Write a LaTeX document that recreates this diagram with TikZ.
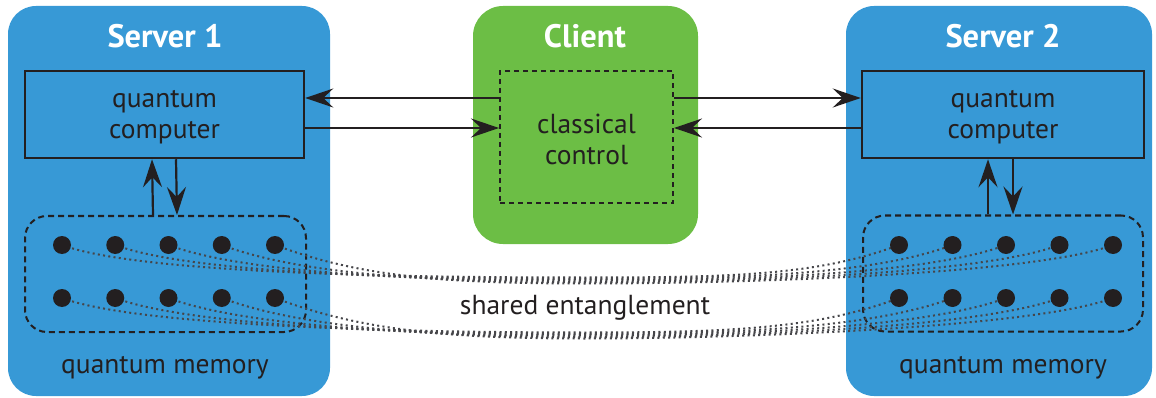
\documentclass[tikz,border=0pt]{standalone}
\usepackage{fontspec}
\setmainfont{PT Sans}
\usetikzlibrary{arrows.meta, positioning, calc}

\definecolor{serverblue}{RGB}{55,153,214}
\definecolor{clientgreen}{RGB}{108,190,69}
\definecolor{ink}{RGB}{35,31,32}
\definecolor{linkgray}{RGB}{70,70,74}

\tikzset{
	panel/.style={rounded corners=28pt, inner sep=0pt, minimum height=#1},
	title/.style={text=white, font=\bfseries\fontsize{32.5}{36}\selectfont},
	label/.style={text=ink, align=center, font=\fontsize{27.5}{31}\selectfont},
	qcbox/.style={draw=ink, line width=2.5pt, minimum height=87pt, inner sep=0pt},
	membox/.style={draw=ink, line width=2pt, dash pattern=on 6pt off 4pt, rounded corners=22pt, minimum height=116pt, inner sep=0pt},
	qubit/.style={circle, fill=ink, minimum size=18pt, inner sep=0pt},
	conn/.style={draw=ink, line width=2.2pt, -{Stealth[length=28pt, width=19pt, inset=10pt]}},
	entangle/.style={draw=linkgray, line width=2pt, dash pattern=on 2pt off 3.3pt},
}

\begin{document}
\begin{tikzpicture}[x=1pt, y=-1pt]
		\useasboundingbox (0,0) rectangle (1156,398);
		
		% panels
		\node [panel=390pt, fill=serverblue, minimum width=322pt] (server1) at (169,201) {};
		\node [panel=390pt, fill=serverblue, minimum width=306pt] (server2) at (999,201) {};
		\node [panel=238pt, fill=clientgreen, minimum width=225pt, rounded corners=30pt] (client) at (585.5,125) {};
		
		\node [title] at (165,36) {Server 1};
		\node [title] at (585,36) {Client};
		\node [title] at (1003,36) {Server 2};
		
		% boxes
		\node [qcbox, minimum width=279pt] (qc1) at (164.5,114.5) {};
		\node [qcbox, minimum width=282pt] (qc2) at (1003,114.5) {};
		\node [draw=ink, line width=2pt, dash pattern=on 5pt off 4pt, minimum width=173pt, minimum height=132pt, inner sep=0pt] (ctrl) at (586.5,137) {};
		\node [membox, minimum width=281pt] (mem1) at (165.5,274) {};
		\node [membox, minimum width=280pt] (mem2) at (1003,273.5) {};
		
		\node [label] at ($(qc1)+(0,3)$) {quantum\\computer};
		\node [label] at ($(qc2)+(0,3)$) {quantum\\computer};
		\node [label] at ($(ctrl)+(0,2)$) {classical\\control};
		\node [label] at (165,368) {quantum memory};
		\node [label] at (1003,368) {quantum memory};
		\node [label] at (585,308) {shared entanglement};
		
		% qubits
		\foreach \i in {1,...,5} {
			\coordinate (a\i) at ({62+53.25*(\i-1)},245);
			\coordinate (c\i) at ({62+53.25*(\i-1)},298);
			\coordinate (b\i) at ({899+53.5*(\i-1)},245);
			\coordinate (d\i) at ({899+53.5*(\i-1)},298);
			\coordinate (m\i) at (585,{276+1.5*\i});
			\coordinate (n\i) at (585,{331+1.5*\i});
		}
		
		% entanglement links
		\foreach \i in {1,...,5} {
			\draw [entangle] (a\i) .. controls +(80,30) and +(-150,0) .. (m\i) .. controls +(150,0) and +(-80,30) .. (b\i);
			\draw [entangle] (c\i) .. controls +(80,30) and +(-150,0) .. (n\i) .. controls +(150,0) and +(-80,30) .. (d\i);
		}
		
		\foreach \i in {1,...,5} {
			\node [qubit] at (a\i) {};
			\node [qubit] at (b\i) {};
			\node [qubit] at (c\i) {};
			\node [qubit] at (d\i) {};
		}
		
		% classical links
		\coordinate (up) at (0,98);
		\coordinate (down) at (0,128);
		\draw [conn] (ctrl.west |- up) -- (qc1.east |- up);
		\draw [conn] (qc1.east |- down) -- (ctrl.west |- down);
		\draw [conn] (ctrl.east |- up) -- (qc2.west |- up);
		\draw [conn] (qc2.west |- down) -- (ctrl.east |- down);
		
		% memory access
		\draw [conn] ([xshift=-12.5pt]mem1.north) -- ([xshift=-12.5pt]qc1.south);
		\draw [conn] ([xshift=11.5pt]qc1.south) -- ([xshift=11.5pt]mem1.north);
		\draw [conn] ([xshift=-15pt]mem2.north) -- ([xshift=-15pt]qc2.south);
		\draw [conn] ([xshift=10pt]qc2.south) -- ([xshift=10pt]mem2.north);
\end{tikzpicture}
\end{document}
